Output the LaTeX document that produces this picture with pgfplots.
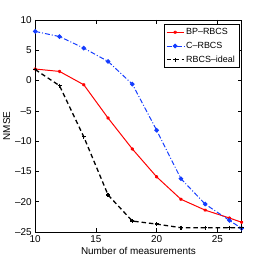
\documentclass[border=0pt]{standalone}
\usepackage{pgfplots}
\pgfplotsset{compat=1.18}
\usepackage{fontspec}
\setmainfont{Liberation Sans}
\begin{document}
\begin{tikzpicture}
\path (-34.5bp,-34.3bp) rectangle (232.5bp,232.7bp);
\begin{axis}[
  at={(0,0)}, anchor=south west,
  scale only axis, width=207bp, height=212.7bp,
  xmin=10, xmax=27, ymin=-25, ymax=10,
  xtick={10,15,20,25}, ytick={-25,-20,-15,-10,-5,0,5,10},
  yticklabels={\textendash25,\textendash20,\textendash15,\textendash10,\textendash5,0,5,10},
  tick align=inside, tick pos=both,
  major tick length=4bp,
  axis line style={line width=0.8pt},
  tick style={line width=0.6pt, black},
  /pgf/number format/assume math mode=true,
  tick label style={font=\fontsize{10}{12}\selectfont},
  label style={font=\fontsize{10}{12}\selectfont},
  xlabel={Number of measurements}, ylabel={NMSE},
  xlabel style={yshift=2bp},
  ylabel style={yshift=-2bp},
  legend style={at={(0.988,0.98)}, anchor=north east, font=\fontsize{9}{10}\selectfont,
    draw=black, line width=0.6pt, inner sep=2pt, row sep=2pt,
    legend cell align=left},
  legend image post style={line width=1pt},
  clip=true,
]
\addplot[red, line width=1pt, mark=asterisk, mark size=1.6pt, mark options={solid}] coordinates {
 (10,1.9) (12,1.5) (14,-0.7) (16,-6.2) (18,-11.3) (20,-15.9) (22,-19.6) (24,-21.4) (26,-22.7) (27,-23.4)};
\addlegendentry{BP\textendash RBCS}
\addplot[color={rgb,255:red,20;green,60;blue,255}, line width=1pt, dash pattern=on 5pt off 2pt on 1pt off 2pt, mark=*, mark size=1.8pt, mark options={solid}] coordinates {
 (10,8.1) (12,7.25) (14,5.35) (16,3.15) (18,-0.6) (20,-8.2) (22,-16.2) (24,-20.4) (26,-23.1) (27,-24.4)};
\addlegendentry{C\textendash RBCS}
\addplot[black, line width=1.3pt, dash pattern=on 4.5pt off 3pt, mark=+, mark size=2pt, mark options={solid}] coordinates {
 (10,1.8) (12,-0.85) (14,-9.3) (16,-18.9) (18,-23.2) (20,-23.7) (22,-24.3) (24,-24.3) (26,-24.3) (27,-24.3)};
\addlegendentry{RBCS\textendash ideal}
\end{axis}
\end{tikzpicture}
\end{document}
